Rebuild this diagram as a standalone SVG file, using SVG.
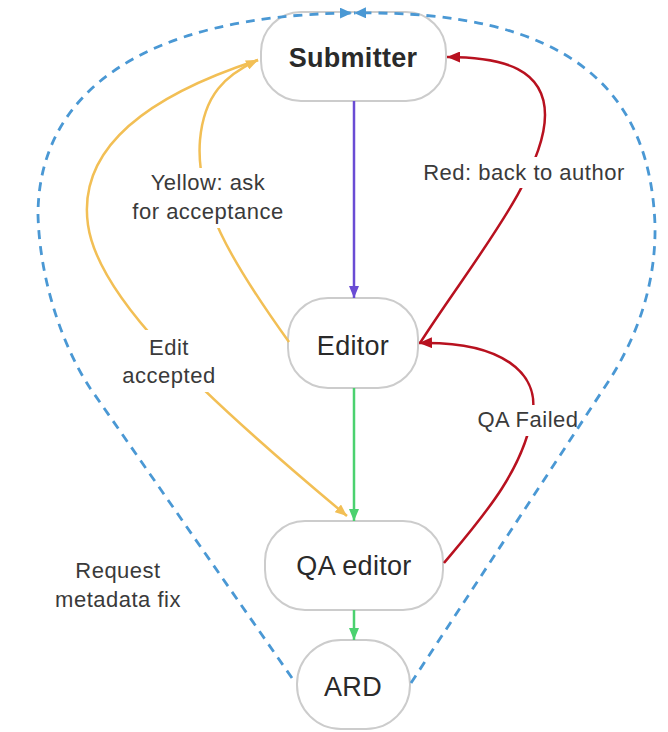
<svg xmlns="http://www.w3.org/2000/svg" width="668" height="732" viewBox="0 0 668 732">
  <defs>
    <style>
      .node rect { fill: #ffffff; stroke: #cccccc; stroke-width: 2; }
      .node text { font-family: "Liberation Sans", Arial, sans-serif; font-size: 27px; fill: #2a2a2a; text-anchor: middle; letter-spacing: 0.3px; }
      .node text.bold { font-weight: bold; }
      .edge { fill: none; stroke-width: 2.5; }
      .purple { stroke: #6a4cd4; }
      .green { stroke: #4bd16f; }
      .yellow { stroke: #f2bf55; }
      .red { stroke: #b8111f; }
      .blue { stroke: #4a98d4; stroke-width: 2.8; stroke-dasharray: 9 7; }
      .label rect { fill: #ffffff; }
      .label text { font-family: "Liberation Sans", Arial, sans-serif; font-size: 22px; fill: #3a3a3a; text-anchor: middle; letter-spacing: 0.5px; }
    </style>
    <marker id="arrow-purple" markerUnits="userSpaceOnUse" markerWidth="12" markerHeight="10" refX="12" refY="5" orient="auto">
      <path d="M0,0 L12,5 L0,10 z" fill="#6a4cd4"/>
    </marker>
    <marker id="arrow-green" markerUnits="userSpaceOnUse" markerWidth="12" markerHeight="10" refX="12" refY="5" orient="auto">
      <path d="M0,0 L12,5 L0,10 z" fill="#4bd16f"/>
    </marker>
    <marker id="arrow-yellow" markerUnits="userSpaceOnUse" markerWidth="12" markerHeight="10" refX="12" refY="5" orient="auto">
      <path d="M0,0 L12,5 L0,10 z" fill="#f2bf55"/>
    </marker>
    <marker id="arrow-red" markerUnits="userSpaceOnUse" markerWidth="13" markerHeight="11" refX="13" refY="5.5" orient="auto">
      <path d="M0,0 L13,5.5 L0,11 z" fill="#b8111f"/>
    </marker>
    <marker id="arrow-blue" markerUnits="userSpaceOnUse" markerWidth="12" markerHeight="11" refX="12" refY="5.5" orient="auto">
      <path d="M0,0 L12,5.5 L0,11 z" fill="#4a98d4"/>
    </marker>
  </defs>

  <rect width="668" height="732" fill="#ffffff"/>

  <!-- nodes -->
  <g id="node-submitter" class="node">
    <rect x="261" y="12" width="185" height="89" rx="40"/>
    <text class="bold" x="353" y="67">Submitter</text>
  </g>
  <g id="node-editor" class="node">
    <rect x="288" y="298" width="130" height="90" rx="40"/>
    <text x="353" y="355">Editor</text>
  </g>
  <g id="node-qa-editor" class="node">
    <rect x="265" y="521" width="178" height="89" rx="40"/>
    <text x="354" y="575">QA editor</text>
  </g>
  <g id="node-ard" class="node">
    <rect x="297" y="640" width="113" height="89" rx="44"/>
    <text x="353" y="696">ARD</text>
  </g>

  <!-- connectors -->
  <g id="connectors">
    <!-- main flow -->
    <path class="edge purple" d="M354,101 L354,298" marker-end="url(#arrow-purple)"/>
    <path class="edge green" d="M354,388 L354,521" marker-end="url(#arrow-green)"/>
    <path class="edge green" d="M354,610 L354,640" marker-end="url(#arrow-green)"/>

    <!-- yellow: editor asks submitter for acceptance -->
    <path class="edge yellow" d="M289,342 C230,260 195,200 200,140 C204,95 225,75 258,60" marker-end="url(#arrow-yellow)"/>
    <!-- yellow: accepted edit goes on to QA -->
    <path class="edge yellow" d="M258,60 C135,100 78,155 88,225 C98,295 190,385 347,516" marker-end="url(#arrow-yellow)"/>

    <!-- red: back to author -->
    <path class="edge red" d="M420,343 C470,265 545,175 545,115 C545,70 505,57 447,57" marker-end="url(#arrow-red)"/>
    <!-- red: QA failed -->
    <path class="edge red" d="M444,563 C480,520 525,470 533,410 C537,375 505,341 419,343" marker-end="url(#arrow-red)"/>
  </g>

  <!-- connector labels -->
  <g id="edge-labels">
    <g class="label">
      <rect x="125" y="168" width="166" height="60"/>
      <text x="208" y="190">Yellow: ask</text>
      <text x="208" y="219">for acceptance</text>
    </g>
    <g class="label">
      <rect x="115" y="330" width="108" height="62"/>
      <text x="169" y="355">Edit</text>
      <text x="169" y="383">accepted</text>
    </g>
    <g class="label">
      <rect x="418" y="157" width="212" height="31"/>
      <text x="524" y="180">Red: back to author</text>
    </g>
    <g class="label">
      <rect x="474" y="405" width="108" height="31"/>
      <text x="528" y="427">QA Failed</text>
    </g>
    <g class="label">
      <text x="118" y="578">Request</text>
      <text x="118" y="607">metadata fix</text>
    </g>
  </g>

  <!-- request metadata fix: dashed loop from ARD back to the submitter -->
  <g id="connectors-dashed">
    <path class="edge blue" d="M292,678 L90,388 C65,350 40,285 38,215 C38,95 140,15 352,13" marker-end="url(#arrow-blue)"/>
    <path class="edge blue" d="M411,683 L612,376 C640,330 656,280 655,225 C650,90 570,10 354,13" marker-end="url(#arrow-blue)"/>
  </g>
</svg>
